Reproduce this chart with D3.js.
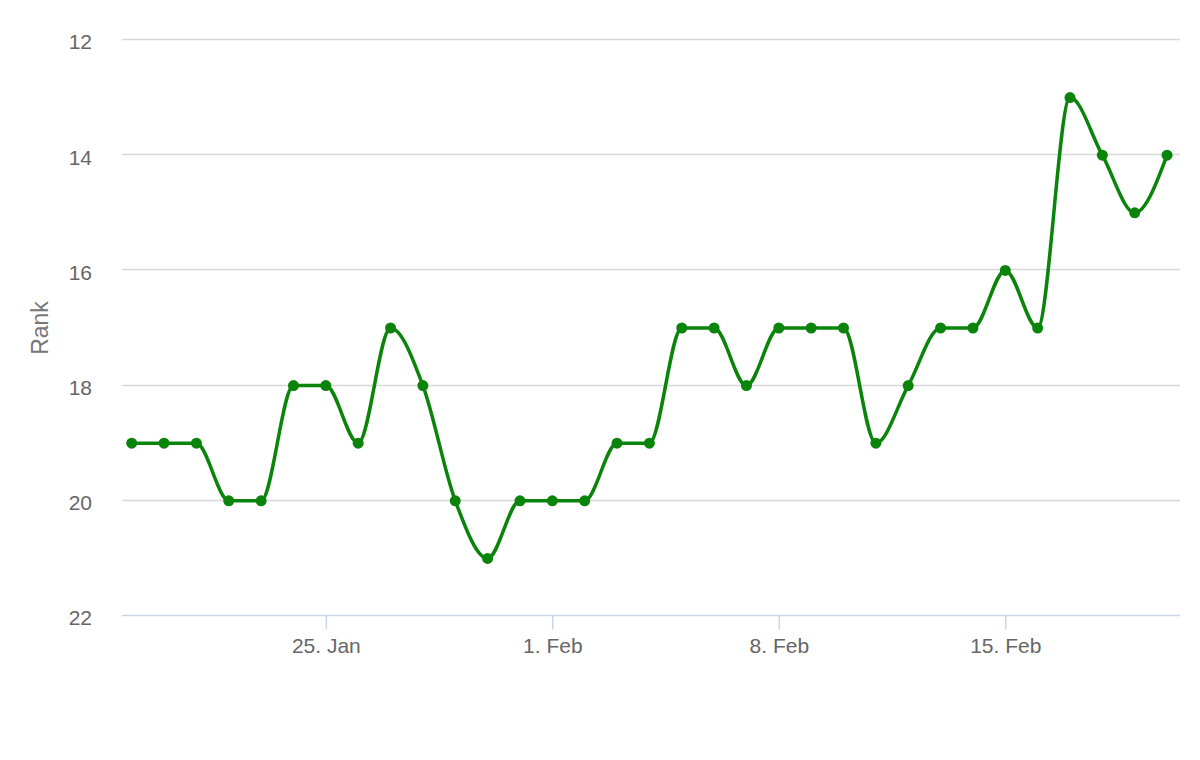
<!DOCTYPE html>
<html>
<head>
<meta charset="utf-8">
<script src="https://cdn.jsdelivr.net/npm/d3@7"></script>
<style>
  body { margin: 0; background: #fff; }
  text { font-family: "Liberation Sans", Arial, sans-serif; }
</style>
</head>
<body>
<svg id="chart"></svg>
<script>
var width = 1200;
var height = 760;

// one point per day, 19 Jan .. 20 Feb
var startDay = "2024-01-19";
var ranks = [19, 19, 19, 20, 20, 18, 18, 19, 17, 18, 20, 21, 20,
             20, 20, 19, 19, 17, 17, 18, 17, 17, 17, 19, 18, 17, 17,
             16, 17, 13, 14, 15, 14];
var yTicks = [12, 14, 16, 18, 20, 22];
var xTickDays = ["2024-01-25", "2024-02-01", "2024-02-08", "2024-02-15"];

var parse = d3.utcParse("%Y-%m-%d");
var day0 = parse(startDay);
var data = ranks.map(function (r, i) {
    return { date: d3.utcDay.offset(day0, i), rank: r };
});

var plotLeft = 122, plotRight = 1180, plotTop = 40, plotBottom = 616;

var x = d3.scaleUtc()
    .domain([new Date(+data[0].date - 0.3 * 864e5),
             new Date(+data[data.length - 1].date + 0.4 * 864e5)])
    .range([plotLeft, plotRight]);

var y = d3.scaleLinear()
    .domain([12, 22])
    .range([plotTop, plotBottom]);

var svg = d3.select("#chart")
    .attr("width", width)
    .attr("height", height);

// grid lines
svg.append("g")
    .selectAll("line")
    .data(yTicks.slice(0, -1))
    .join("line")
    .attr("x1", plotLeft)
    .attr("x2", plotRight)
    .attr("y1", function (d) { return Math.round(y(d)) - 0.5; })
    .attr("y2", function (d) { return Math.round(y(d)) - 0.5; })
    .attr("stroke", "#d8d8d8")
    .attr("stroke-width", 1.5);

// y labels
svg.append("g")
    .selectAll("text")
    .data(yTicks)
    .join("text")
    .attr("x", 92)
    .attr("y", function (d) { return y(d) + 2; })
    .attr("dy", "0.35em")
    .attr("text-anchor", "end")
    .attr("fill", "#666")
    .attr("font-size", 21)
    .text(function (d) { return d; });

svg.append("text")
    .attr("transform", "translate(48," + ((plotTop + plotBottom) / 2) + ") rotate(-90)")
    .attr("text-anchor", "middle")
    .attr("fill", "#777")
    .attr("font-size", 23)
    .text("Rank");

// x axis
var xAxis = d3.axisBottom(x)
    .tickValues(xTickDays.map(parse))
    .tickSize(14)
    .tickPadding(9)
    .tickFormat(d3.utcFormat("%-d. %b"));

var gx = svg.append("g")
    .attr("transform", "translate(0," + (plotBottom - 0.5) + ")")
    .call(xAxis);
gx.select(".domain")
    .attr("d", "M" + plotLeft + ",0H" + plotRight)
    .attr("stroke", "#ccd6eb")
    .attr("stroke-width", 1.5);
gx.selectAll(".tick line")
    .attr("stroke", "#ccd6eb")
    .attr("stroke-width", 1.5);
gx.selectAll(".tick text")
    .attr("fill", "#666")
    .attr("font-size", 21)
    .attr("font-family", "Liberation Sans, Arial, sans-serif");

// series
var line = d3.line()
    .x(function (d) { return x(d.date); })
    .y(function (d) { return y(d.rank); })
    .curve(d3.curveMonotoneX);

svg.append("path")
    .datum(data)
    .attr("d", line)
    .attr("fill", "none")
    .attr("stroke", "#0a840a")
    .attr("stroke-width", 3.5);

svg.append("g")
    .selectAll("circle")
    .data(data)
    .join("circle")
    .attr("cx", function (d) { return x(d.date); })
    .attr("cy", function (d) { return y(d.rank); })
    .attr("r", 5.5)
    .attr("fill", "#0a840a");
</script>
</body>
</html>
